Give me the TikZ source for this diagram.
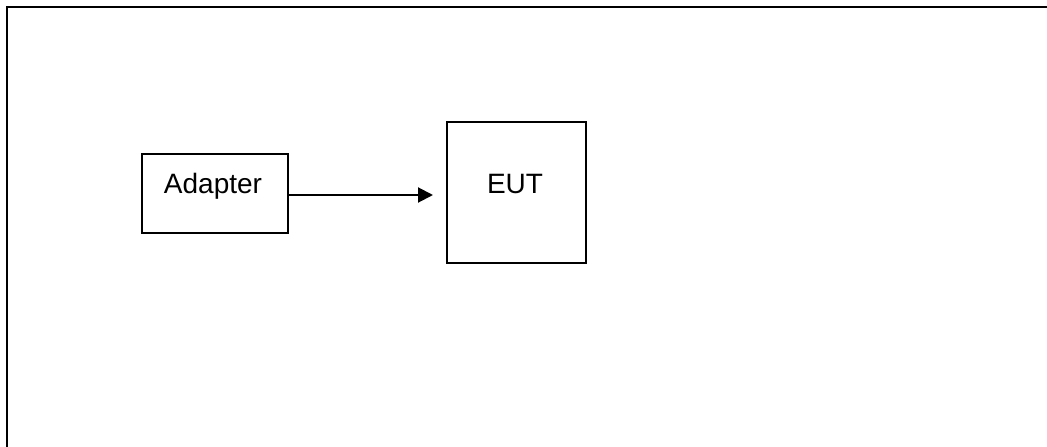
\documentclass[tikz,border=0pt]{standalone}
\usepackage{fontspec}
\setmainfont{Liberation Sans}
\usetikzlibrary{arrows.meta}
\begin{document}
\begin{tikzpicture}[x=1pt,y=-1pt,
  boxstyle/.style={draw=black,line width=1.8pt,rectangle,inner sep=0pt},
  labelstyle/.style={font=\fontsize{28}{32}\selectfont,inner sep=0pt,anchor=base},
  conn/.style={line width=2pt,-{Triangle[length=15pt,width=15pt]}},
  frameline/.style={line width=2pt}]
\useasboundingbox (0,0) rectangle (1047,447);
\clip (0,0) rectangle (1047,447);
\fill[white] (0,0) rectangle (1047,447);
\coordinate (ftl) at (7,7);
\coordinate (ftr) at (1050,7);
\coordinate (fbl) at (7,450);
\draw[frameline] (fbl) -- (ftl) -- (ftr);
\node[boxstyle,minimum width=146pt,minimum height=79pt] (adapter) at (215,193.8) {};
\node[labelstyle] (adaptertxt) at (213,193) {Adapter};
\node[boxstyle,minimum width=139pt,minimum height=141.6pt] (eut) at (516.2,192.5) {};
\node[labelstyle] (euttxt) at (515,193) {EUT};
\coordinate (tip) at (433,195);
\draw[conn] (adapter.east |- tip) -- (tip);
\end{tikzpicture}
\end{document}
